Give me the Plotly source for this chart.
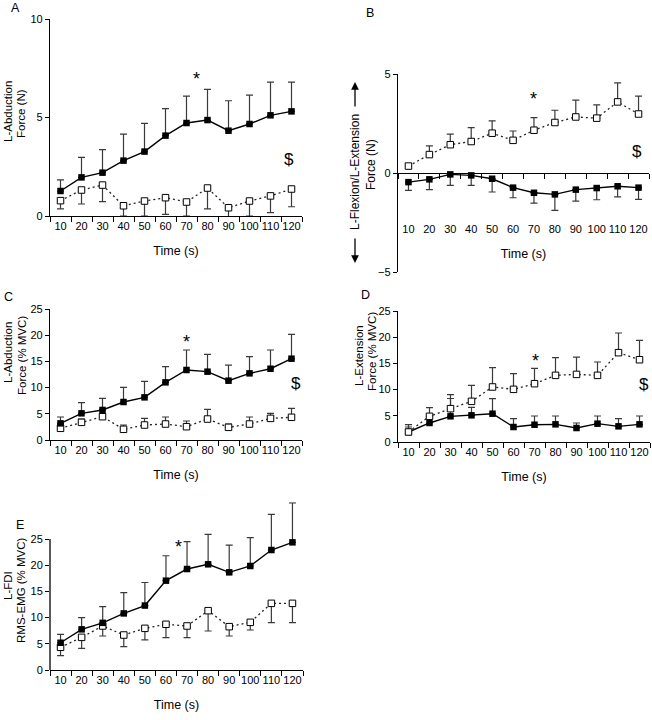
import plotly.graph_objects as go

W, H = 652, 720
times = ["10", "20", "30", "40", "50", "60", "70", "80", "90", "100", "110", "120"]

# Panel A: L-Abduction force (N)
a_closed = [1.27, 1.96, 2.20, 2.81, 3.27, 4.08, 4.72, 4.87, 4.33, 4.67, 5.11, 5.31]
a_closed_err = [0.56, 1.02, 1.17, 1.35, 1.43, 1.37, 1.37, 1.56, 1.52, 1.47, 1.69, 1.49]
a_open = [0.78, 1.32, 1.57, 0.52, 0.76, 0.93, 0.71, 1.42, 0.42, 0.76, 1.02, 1.37]
a_open_err = [0.42, 0.71, 0.84, 0.52, 0.76, 0.85, 0.71, 1.06, 0.59, 0.76, 0.85, 0.90]

# Panel B: L-Flexion / L-Extension force (N)
b_open = [0.35, 0.93, 1.43, 1.59, 2.01, 1.65, 2.16, 2.55, 2.83, 2.77, 3.59, 2.98]
b_open_err = [0.12, 0.44, 0.53, 0.70, 0.62, 0.47, 0.64, 0.62, 0.85, 0.67, 0.96, 0.90]
b_closed = [-0.46, -0.32, -0.07, -0.12, -0.29, -0.74, -1.00, -1.08, -0.84, -0.76, -0.67, -0.74]
b_closed_err = [0.42, 0.52, 0.55, 0.50, 0.67, 0.51, 0.52, 0.81, 0.58, 0.59, 0.54, 0.59]

# Panel C: L-Abduction force (% MVC)
c_closed = [3.18, 5.09, 5.73, 7.25, 8.14, 11.00, 13.36, 13.04, 11.32, 12.72, 13.60, 15.52]
c_closed_err = [1.21, 2.03, 2.22, 2.80, 3.06, 3.00, 3.82, 3.31, 2.98, 3.18, 3.58, 4.65]
c_open = [2.23, 3.37, 4.45, 2.04, 2.86, 3.05, 2.54, 4.00, 2.42, 3.05, 4.13, 4.33]
c_open_err = [0.70, 0.60, 0.60, 0.82, 1.27, 1.34, 1.09, 1.85, 0.63, 1.34, 0.96, 1.71]

# Panel D: L-Extension force (% MVC)
d_open = [1.91, 4.90, 6.36, 7.76, 10.50, 10.05, 11.13, 12.72, 12.90, 12.72, 17.05, 15.70]
d_open_err = [1.39, 1.65, 2.70, 3.04, 3.70, 2.99, 2.93, 3.38, 3.30, 2.55, 3.75, 3.70]
d_closed = [1.91, 3.63, 4.90, 5.09, 5.40, 2.86, 3.30, 3.37, 2.67, 3.50, 2.99, 3.37]
d_closed_err = [0.95, 1.20, 3.40, 1.50, 2.87, 1.59, 1.66, 1.59, 0.96, 1.46, 1.46, 1.59]

# Panel E: L-FDI RMS-EMG (% MVC)
e_closed = [5.20, 7.76, 9.00, 10.80, 12.30, 17.05, 19.27, 20.17, 18.64, 19.85, 22.90, 24.36]
e_closed_err = [1.60, 2.24, 3.10, 3.96, 4.40, 4.75, 5.23, 5.73, 5.21, 5.40, 6.80, 7.54]
e_open = [4.33, 6.23, 8.40, 6.68, 7.95, 8.72, 8.40, 11.32, 8.27, 9.10, 12.72, 12.72]
e_open_err = [1.59, 2.10, 1.91, 2.23, 2.22, 2.55, 2.23, 3.88, 1.78, 1.47, 3.69, 3.69]

FONT = "Liberation Sans, Arial, sans-serif"
ERR_COLOR = "#3a3a3a"
TICK_SIZE = 11
TITLE_SIZE = 12.5
YT_SIZE = 11.5


def px_x(p):
    return p / W


def px_y(p):
    return 1 - p / H


def err(values, up=True):
    zeros = [0] * len(values)
    return dict(type="data", symmetric=False,
                array=values if up else zeros,
                arrayminus=zeros if up else values,
                color=ERR_COLOR, thickness=1.2, width=3.5)


def closed_trace(y, e, up, ax):
    return go.Scatter(x=times, y=y, mode="lines+markers", xaxis="x" + ax, yaxis="y" + ax,
                      line=dict(color="black", width=1.4),
                      marker=dict(symbol="square", size=6.5, color="black"),
                      error_y=err(e, up), showlegend=False, hoverinfo="skip")


def open_trace(y, e, up, ax):
    return go.Scatter(x=times, y=y, mode="lines+markers", xaxis="x" + ax, yaxis="y" + ax,
                      line=dict(color="#222", width=1.3, dash="2px,3px"),
                      marker=dict(symbol="square", size=6.5, color="white",
                                  line=dict(color="black", width=1)),
                      error_y=err(e, up), showlegend=False, hoverinfo="skip")


fig = go.Figure()
# A
fig.add_trace(open_trace(a_open, a_open_err, False, ""))
fig.add_trace(closed_trace(a_closed, a_closed_err, True, ""))
# B
fig.add_trace(closed_trace(b_closed, b_closed_err, False, "2"))
fig.add_trace(open_trace(b_open, b_open_err, True, "2"))
# C
fig.add_trace(open_trace(c_open, c_open_err, True, "3"))
fig.add_trace(closed_trace(c_closed, c_closed_err, True, "3"))
# D
fig.add_trace(closed_trace(d_closed, d_closed_err, True, "4"))
fig.add_trace(open_trace(d_open, d_open_err, True, "4"))
# E
fig.add_trace(open_trace(e_open, e_open_err, False, "5"))
fig.add_trace(closed_trace(e_closed, e_closed_err, True, "5"))


def xaxis(dom, anchor, **kw):
    d = dict(domain=[px_x(dom[0]), px_x(dom[1])], anchor=anchor, type="category",
             categoryorder="array", categoryarray=times, range=[-0.5, 11.5],
             tickson="boundaries", ticks="outside", ticklen=5, tickwidth=1, tickcolor="black",
             tickangle=0,
             showline=True, linewidth=1.3, linecolor="black", showgrid=False, zeroline=False,
             tickfont=dict(size=TICK_SIZE, color="black", family=FONT),
             title=dict(text="Time (s)", font=dict(size=TITLE_SIZE, color="black", family=FONT), standoff=14),
             automargin=False, fixedrange=True)
    d.update(kw)
    return d


def yaxis(dom, anchor, rng, tickvals, **kw):
    d = dict(domain=[px_y(dom[0]), px_y(dom[1])], anchor=anchor, range=rng,
             tickvals=tickvals, ticks="outside", ticklen=4, tickwidth=1, tickcolor="black",
             showline=True, linewidth=1.3, linecolor="black", showgrid=False, zeroline=False,
             tickfont=dict(size=TICK_SIZE, color="black", family=FONT), automargin=False, fixedrange=True)
    d.update(kw)
    return d


e_top_px = 670 - 32 * (131 / 25)

fig.update_layout(
    width=W, height=H, margin=dict(l=0, r=0, t=0, b=0),
    paper_bgcolor="white", plot_bgcolor="white",
    font=dict(family=FONT, color="black"),
    xaxis=xaxis((50, 302), "y"),
    yaxis=yaxis((216, 19), "x", [0, 10], [0, 5, 10]),
    xaxis2=xaxis((398, 649), "free", position=px_y(173), showticklabels=True,
                 ticklabelstandoff=46),
    yaxis2=yaxis((272, 74), "x2", [-5, 5], [-5, 0, 5]),
    xaxis3=xaxis((50, 302), "y3"),
    yaxis3=yaxis((440, 309), "x3", [0, 25], [0, 5, 10, 15, 20, 25]),
    xaxis4=xaxis((398, 650), "y4"),
    yaxis4=yaxis((442, 311), "x4", [0, 25], [0, 5, 10, 15, 20, 25]),
    xaxis5=xaxis((50, 303), "y5"),
    yaxis5=yaxis((670, e_top_px), "x5", [0, 32], [0, 5, 10, 15, 20, 25], showline=False),
)

# y axis line of panel E stops at 25
fig.add_shape(type="line", xref="x5 domain", yref="y5", x0=0, x1=0, y0=0, y1=25,
              line=dict(color="black", width=1.3))

ann = []


def text(px, py, s, size=10.5, angle=0):
    ann.append(dict(x=px_x(px), y=px_y(py), xref="paper", yref="paper", text=s,
                    showarrow=False, textangle=angle, xanchor="center", yanchor="middle",
                    font=dict(size=size, color="black", family=FONT)))


# panel letters
text(15, 8, "A", 12.5)
text(370, 13, "B", 12.5)
text(8, 297, "C", 12.5)
text(365, 295, "D", 12.5)
text(20, 525, "E", 12.5)

# y titles
text(8, 112, "L-Abduction", YT_SIZE, -90)
text(21, 114, "Force (N)", YT_SIZE, -90)
text(355, 172, "L-Flexion/L-Extension", 12, -90)
text(371, 165, "Force (N)", 12, -90)
text(8, 353, "L-Abduction", YT_SIZE, -90)
text(22, 356, "Force (% MVC)", YT_SIZE, -90)
text(359, 356, "L-Extension", YT_SIZE, -90)
text(372, 352, "Force (% MVC)", YT_SIZE, -90)
text(8, 586, "L-FDI", YT_SIZE, -90)
text(21, 590, "RMS-EMG (% MVC)", YT_SIZE, -90)

# B arrows
ann.append(dict(x=px_x(355), y=px_y(82), xref="paper", yref="paper", ax=0, ay=26,
                showarrow=True, arrowhead=2, arrowsize=1.2, arrowwidth=1.3, arrowcolor="black", text=""))
ann.append(dict(x=px_x(355), y=px_y(263), xref="paper", yref="paper", ax=0, ay=-26,
                showarrow=True, arrowhead=2, arrowsize=1.2, arrowwidth=1.3, arrowcolor="black", text=""))

# significance markers
text(197, 79, "*", 18)
text(289, 159, "$", 17)
text(533, 99, "*", 18)
text(637, 151, "$", 17)
text(186, 342, "*", 18)
text(296, 383, "$", 17)
text(535, 361, "*", 18)
text(644, 384, "$", 17)
text(178, 547, "*", 18)

fig.update_layout(annotations=ann)
fig.write_html("out.html", config={"displayModeBar": False},
               post_script="document.body.style.margin='0';document.body.style.padding='0';")
